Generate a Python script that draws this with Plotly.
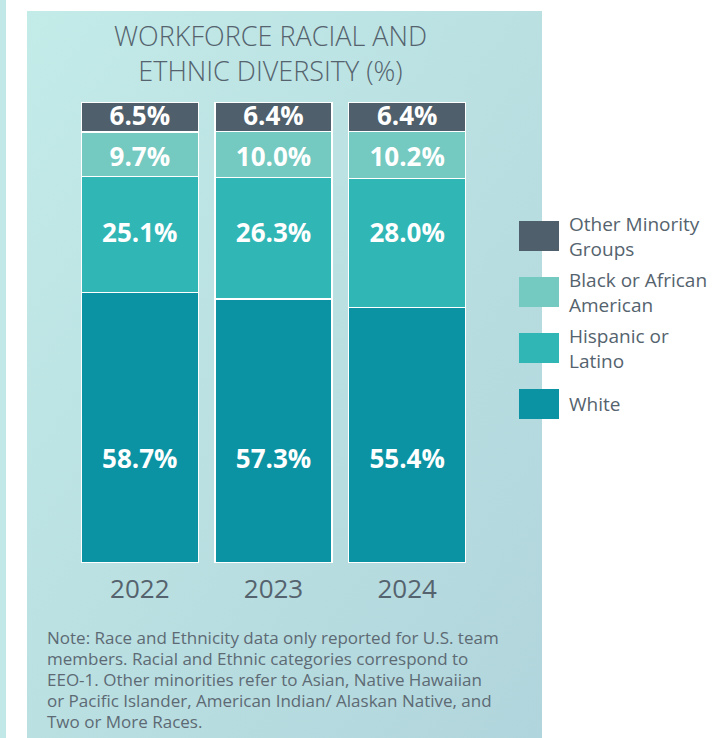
import base64
import plotly.graph_objects as go

# ---- data ----
years = ["2022", "2023", "2024"]
series_names = ["White", "Hispanic or Latino", "Black or African American", "Other Minority Groups"]
white = [58.7, 57.3, 55.4]
hispanic = [25.1, 26.3, 28.0]
black = [9.7, 10.0, 10.2]
other = [6.5, 6.4, 6.4]
legend_labels = [
    "Other Minority<br>Groups",
    "Black or African<br>American",
    "Hispanic or<br>Latino",
    "White",
]
note_lines = [
    "Note: Race and Ethnicity data only reported for U.S. team",
    "members. Racial and Ethnic categories correspond to",
    "EEO-1. Other minorities refer to Asian, Native Hawaiian",
    "or Pacific Islander, American Indian/ Alaskan Native, and",
    "Two or More Races.",
]

# ---- style ----
W, H = 720, 738
PLOT_L, PLOT_R, PLOT_T, PLOT_B = 73, 474, 102, 563
FONT = "Open Sans"
TEXT_GREY = "#55636e"
colors = {
    "White": "#0b93a3",
    "Hispanic or Latino": "#31b6b6",
    "Black or African American": "#74c9c0",
    "Other Minority Groups": "#4f5f6b",
}
# value labels sit on a common row per series (in axis units)
label_rows = {
    "White": 22.0,
    "Hispanic or Latino": 71.0,
    "Black or African American": 87.6,
    "Other Minority Groups": 96.5,
}


def px_x(x):
    return (x - PLOT_L) / (PLOT_R - PLOT_L)


def px_y(y):
    return (PLOT_B - y) / (PLOT_B - PLOT_T)


fig = go.Figure()
all_series = [white, hispanic, black, other]
for name, vals in zip(series_names, all_series):
    fig.add_trace(go.Bar(
        x=years, y=vals, name=name,
        marker=dict(color=colors[name], line=dict(color="white", width=1.5)),
        showlegend=False, hoverinfo="skip",
    ))
for name, vals in zip(series_names, all_series):
    fig.add_trace(go.Scatter(
        x=years, y=[label_rows[name]] * len(years), mode="text",
        text=[f"{v:.1f}%" for v in vals],
        textfont=dict(family=FONT, size=26, color="white", weight="bold"),
        showlegend=False, hoverinfo="skip", cliponaxis=False,
    ))

# gradient background panel as inline SVG
svg = (
    '<svg xmlns="http://www.w3.org/2000/svg" width="515" height="727" preserveAspectRatio="none">'
    '<defs><linearGradient id="g" x1="0" y1="0" x2="1" y2="1">'
    '<stop offset="0" stop-color="#c3ebe8"/><stop offset="1" stop-color="#b1d5dc"/>'
    '</linearGradient></defs><rect width="515" height="727" fill="url(#g)"/></svg>'
)
svg_uri = "data:image/svg+xml;base64," + base64.b64encode(svg.encode()).decode()
panel_l, panel_r, panel_t, panel_b = 27, 542, 11, 738
images = [dict(
    source=svg_uri, xref="paper", yref="paper",
    x=px_x(panel_l), y=px_y(panel_t),
    sizex=(panel_r - panel_l) / (PLOT_R - PLOT_L),
    sizey=(panel_b - panel_t) / (PLOT_B - PLOT_T),
    xanchor="left", yanchor="top", sizing="stretch", layer="below",
)]

shapes = [dict(
    type="rect", xref="paper", yref="paper", layer="below",
    x0=px_x(0), x1=px_x(6), y0=px_y(0), y1=px_y(H),
    fillcolor="#c1e8e6", line=dict(width=0),
)]

annotations = [dict(
    text="WORKFORCE RACIAL AND<br>ETHNIC DIVERSITY (%)",
    xref="paper", yref="paper", x=px_x(270), y=px_y(53),
    xanchor="center", yanchor="middle", showarrow=False,
    font=dict(family=FONT, size=27, color=TEXT_GREY, weight=300),
    align="center",
)]

# legend: swatches and labels, top to bottom
legend_order = ["Other Minority Groups", "Black or African American", "Hispanic or Latino", "White"]
for i, (name, label) in enumerate(zip(legend_order, legend_labels)):
    top = 221 + i * 56
    shapes.append(dict(
        type="rect", xref="paper", yref="paper",
        x0=px_x(519), x1=px_x(559), y0=px_y(top + 30), y1=px_y(top),
        fillcolor=colors[name], line=dict(width=0),
    ))
    annotations.append(dict(
        text=label, xref="paper", yref="paper",
        x=px_x(567), y=px_y(top + 15), xanchor="left", yanchor="middle",
        showarrow=False, align="left",
        font=dict(family=FONT, size=19, color=TEXT_GREY),
    ))

for i, line in enumerate(note_lines):
    annotations.append(dict(
        text=line, xref="paper", yref="paper",
        x=px_x(45), y=px_y(637 + 21 * i), xanchor="left", yanchor="middle",
        showarrow=False, align="left",
        font=dict(family=FONT, size=17, color="#5d6a74"),
    ))

fig.update_layout(
    width=W, height=H,
    margin=dict(l=PLOT_L, r=W - PLOT_R, t=PLOT_T, b=H - PLOT_B, pad=0),
    barmode="stack", bargap=0.124,
    paper_bgcolor="white", plot_bgcolor="rgba(0,0,0,0)",
    xaxis=dict(
        type="category", showgrid=False, zeroline=False, showline=False,
        ticks="", ticklabelstandoff=8,
        tickfont=dict(family=FONT, size=26, color=TEXT_GREY),
    ),
    yaxis=dict(range=[0, 100], visible=False, showgrid=False),
    images=images, shapes=shapes, annotations=annotations,
)

fig.write_html("out.html")
